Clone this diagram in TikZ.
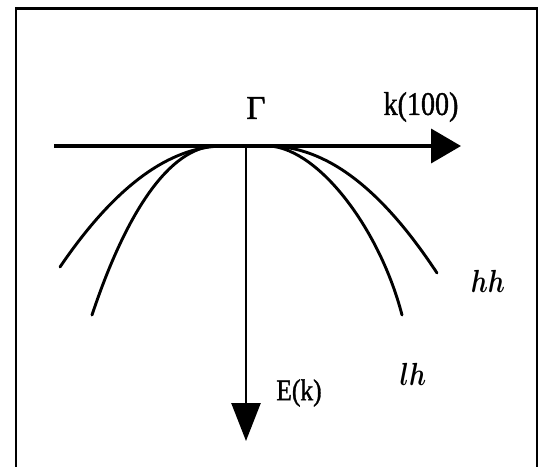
\RequirePackage{fix-cm}
\documentclass[tikz,border=0pt]{standalone}
\usepackage{graphicx}
\usepackage{bm}
\usepackage{fontspec}
\setmainfont{Liberation Serif}
\newfontfamily\lblfont{Liberation Serif}[FakeBold=1.2]
\usetikzlibrary{arrows.meta}
\begin{document}
\begin{tikzpicture}[x=1pt,y=-1pt,
  frame/.style={line width=2.4pt,line cap=butt},
  axisline/.style={line width=3.8pt},
  vaxis/.style={line width=2.6pt},
  band/.style={line width=2.9pt,line cap=round,line join=round},
  lbl/.style={inner sep=0pt,font=\fontsize{33}{35}\selectfont\lblfont},
  blbl/.style={inner sep=0pt,font=\fontsize{32}{34}\selectfont}]
\useasboundingbox (0,0) rectangle (543,466);
% frame
\draw[frame] (16,470) -- (16,8.5) -- (537,8.5) -- (537,470);
% axes
\coordinate (xs) at (54,146);
\coordinate (xe) at (461,146);
\coordinate (O) at (246,146);
\coordinate (ye) at (246,441);
\draw[axisline,-{Triangle[length=30pt,width=34pt]}] (xs) -- (xe);
\draw[vaxis,-{Triangle[length=38pt,width=29pt]}] (O) -- (ye);
% bands
\coordinate (lo) at (60,267);
\coordinate (li) at (92,315);
\coordinate (ro) at (437,273);
\coordinate (ri) at (402,315);
\coordinate (lt) at (224,146);
\coordinate (lti) at (215,146);
\coordinate (rt) at (268,146);
\coordinate (rti) at (270,146);
\draw[band] (lo) .. controls (115,186) and (170,146) .. (lt);
\draw[band] (li) .. controls (127,210) and (170,148) .. (lti);
\draw[band] (rt) .. controls (326,146) and (381,188) .. (ro);
\draw[band] (rti) .. controls (320,150) and (380,230) .. (ri);
% labels
\node[lbl] (gamma) at (256,108) {Γ};
\node[lbl] (k) at (421,107) {\scalebox{0.85}[1]{k(100)}};
\node[lbl,font=\fontsize{30}{32}\selectfont\lblfont] (E) at (299,393) {\scalebox{0.85}[1]{E(k)}};
\node[blbl] (hh) at (488,281) {\scalebox{0.8}[1]{$\bm{hh}$}};
\node[blbl] (lh) at (413,374) {\scalebox{0.8}[1]{$\bm{lh}$}};
\end{tikzpicture}
\end{document}
